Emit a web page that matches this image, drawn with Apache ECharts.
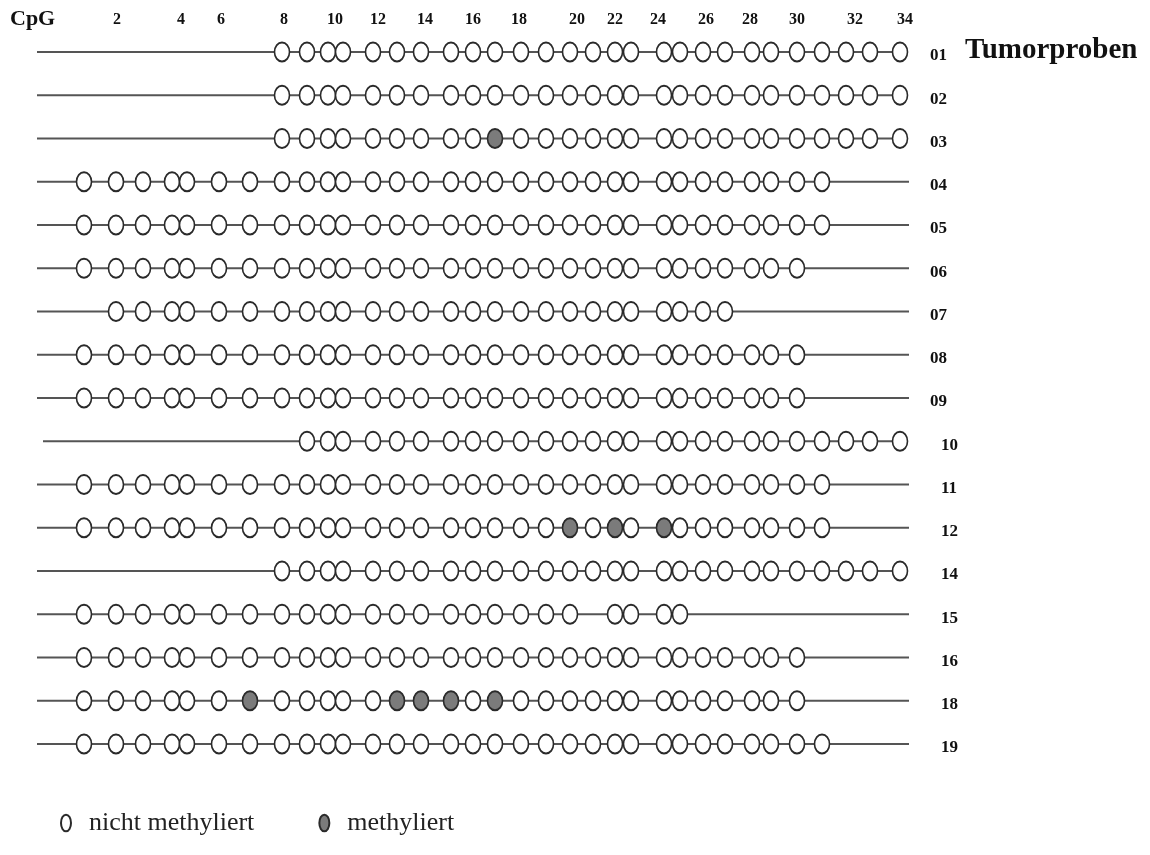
<!DOCTYPE html>
<html>
<head>
<meta charset="utf-8">
<title>CpG Methylierung</title>
<script src="https://cdn.jsdelivr.net/npm/echarts@6.0.0/dist/echarts.min.js"></script>
<style>
	html,body{margin:0;padding:0;background:#fff;}
	#main{width:1150px;height:855px;}
</style>
</head>
<body>
<div id="main"></div>
<script>
// Lage der 34 CpG-Stellen entlang des Fragments
var sitePos = [84,116,143,172,187,219,250,282,307,328,343,373,397,421,451,473,495,
	521,546,570,593,615,631,664,680,703,725,752,771,797,822,846,870,900];

// Beschriftung oben
var tickNums = [2,4,6,8,10,12,14,16,18,20,22,24,26,28,30,32,34];
var tickPos = [117,181,221,284,335,378,425,473,519,577,615,658,706,750,797,855,905];

// Proben
var rowLabels = ['01','02','03','04','05','06','07','08','09','10','11','12','14','15','16','18','19'];
var rowFirst = [8,8,8,1,1,1,2,1,1,9,1,1,8,1,1,1,1];
var rowLast = [34,34,34,31,31,30,27,30,30,34,31,31,34,25,30,30,31];
var rowGaps = [[],[],[],[],[],[],[],[],[],[],[],[],[],[21],[],[],[]];
var rowMeth = [[],[],[17],[],[],[],[],[],[],[],[],[20,22,24],[],[],[],[7,13,14,15,17],[]];
var lineStart = [37,37,37,37,37,37,37,37,37,43,37,37,37,37,37,37,37];
var lineEnd = [900,900,900,909,909,909,909,909,909,900,909,909,900,909,909,909,909];

window.onload = function(){
	var unmeth = [], meth = [], lines = [];
	for(var i=0;i<rowLabels.length;i++){
		lines.push([lineStart[i], lineEnd[i], i]);
		for(var s=rowFirst[i]; s<=rowLast[i]; s++){
			if(rowGaps[i].indexOf(s) >= 0) continue;
			if(rowMeth[i].indexOf(s) >= 0){
				meth.push([sitePos[s-1], i]);
			}else{
				unmeth.push([sitePos[s-1], i]);
			}
		}
	}

	var serif = '"Liberation Serif", "Times New Roman", serif';
	var ellipse = 'path://M50,0A50,50 0 1,1 50,100A50,50 0 1,1 50,0Z';
	// schmale Ellipse fuer die Legende (Seitenverhaeltnis bleibt dort erhalten)
	var ovalIcon = 'path://M30,0A30,50 0 1,1 30,100A30,50 0 1,1 30,0Z';

	var myChart = echarts.init(document.getElementById('main'));
	var option = {
		animation: false,
		backgroundColor: '#fff',
		grid: {left: 0, right: 230, top: 30.4, bottom: 89.4},
		xAxis: {
			type: 'value',
			position: 'top',
			min: 0,
			max: 920,
			axisLine: {show: false},
			axisTick: {show: false},
			splitLine: {show: false},
			axisLabel: {
				customValues: tickPos,
				margin: 3,
				fontFamily: serif,
				fontWeight: 'bold',
				fontSize: 16,
				color: '#111',
				formatter: function(v){
					var k = tickPos.indexOf(v);
					return k >= 0 ? String(tickNums[k]) : '';
				}
			}
		},
		yAxis: {
			type: 'category',
			data: rowLabels,
			inverse: true,
			position: 'right',
			axisLine: {show: false},
			axisTick: {show: false},
			splitLine: {show: false},
			axisLabel: {
				margin: 10,
				padding: [8,0,0,0],
				fontFamily: serif,
				fontWeight: 'bold',
				fontSize: 17,
				color: '#111',
				formatter: function(v){
					return Number(v) >= 10 ? '{b|' + v + '}' : v;
				},
				rich: {
					b: {padding: [0,0,0,11], fontFamily: serif, fontWeight: 'bold', fontSize: 17, color: '#111'}
				}
			}
		},
		legend: {
			left: 60,
			top: 810,
			padding: 0,
			itemGap: 64,
			itemWidth: 10,
			itemHeight: 17,
			icon: ovalIcon,
			textStyle: {fontFamily: serif, fontSize: 26, color: '#222', padding: [0,0,0,13]},
			data: ['nicht methyliert', 'methyliert']
		},
		graphic: [
			{type: 'text', left: 10, top: 8, style: {text: 'CpG', font: 'bold 22px ' + serif, fill: '#111'}},
			{type: 'text', left: 965, top: 36, style: {text: 'Tumorproben', font: 'bold 29px ' + serif, fill: '#111'}}
		],
		series: [
			{
				name: 'Fragment',
				type: 'custom',
				z: 1,
				silent: true,
				encode: {x: [0,1], y: 2},
				data: lines,
				renderItem: function(params, api){
					var p1 = api.coord([api.value(0), api.value(2)]);
					var p2 = api.coord([api.value(1), api.value(2)]);
					return {
						type: 'line',
						shape: {x1: p1[0], y1: p1[1], x2: p2[0], y2: p2[1]},
						style: {stroke: '#555', lineWidth: 2}
					};
				}
			},
			{
				name: 'nicht methyliert',
				type: 'scatter',
				z: 3,
				symbol: ellipse,
				symbolSize: [15, 19],
				symbolKeepAspect: false,
				itemStyle: {color: '#fff', borderColor: '#2a2a2a', borderWidth: 1.8, opacity: 1},
				data: unmeth
			},
			{
				name: 'methyliert',
				type: 'scatter',
				z: 3,
				symbol: ellipse,
				symbolSize: [15, 19],
				symbolKeepAspect: false,
				itemStyle: {color: '#7b7b7b', borderColor: '#2a2a2a', borderWidth: 1.8, opacity: 1},
				data: meth
			}
		]
	};
	myChart.setOption(option);
};
</script>
</body>
</html>
